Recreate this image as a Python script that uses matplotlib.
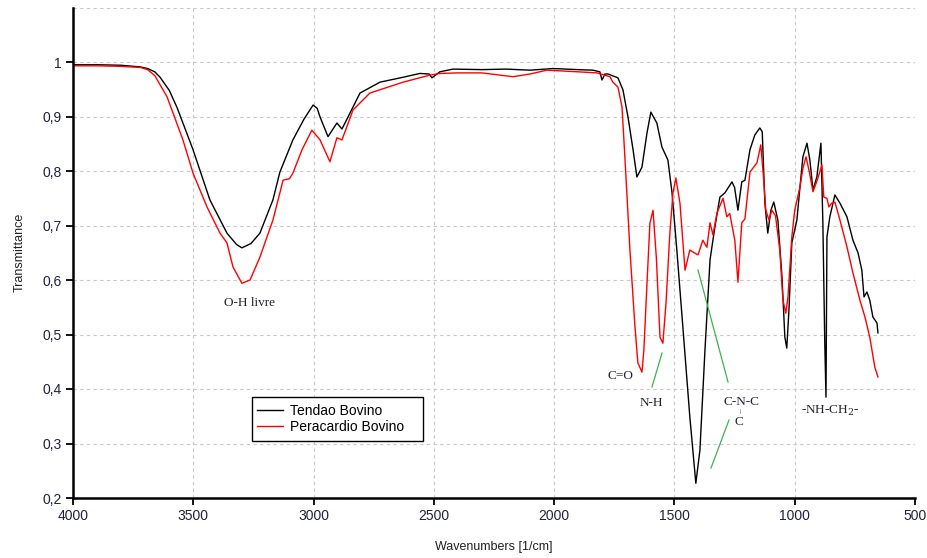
import matplotlib
matplotlib.use("Agg")
import matplotlib.pyplot as plt
from matplotlib.ticker import FuncFormatter
from matplotlib.patches import Rectangle

# ---- data ----
tendao_wn = [4000, 3900, 3800, 3720, 3690, 3660, 3638, 3600, 3568, 3501, 3431, 3360, 3320, 3298,
             3260, 3223, 3169, 3140, 3086, 3040, 3002, 2985, 2973, 2940, 2903, 2882, 2849, 2807,
             2724, 2628, 2558, 2520, 2508, 2475, 2420, 2300, 2200, 2100, 2005, 1900, 1839, 1810,
             1801, 1789, 1776, 1735, 1714, 1693, 1672, 1656, 1635, 1614, 1598, 1573, 1552, 1527,
             1510, 1490, 1465, 1436, 1411, 1394, 1373, 1352, 1332, 1311, 1290, 1261, 1250, 1236,
             1220, 1207, 1186, 1166, 1145, 1135, 1124, 1112, 1099, 1087, 1070, 1053, 1041, 1033,
             1024, 1012, 1000, 991, 978, 966, 949, 937, 924, 908, 891, 883, 875, 870, 866, 854,
             833, 812, 783, 758, 737, 721, 712, 700, 688, 675, 658, 654]
tendao_t = [0.995, 0.995, 0.994, 0.991, 0.988, 0.982, 0.972, 0.948, 0.917, 0.839, 0.747, 0.686,
            0.665, 0.659, 0.667, 0.686, 0.747, 0.798, 0.857, 0.895, 0.921, 0.915, 0.899, 0.863,
            0.888, 0.877, 0.906, 0.943, 0.963, 0.972, 0.979, 0.978, 0.971, 0.982, 0.987, 0.986,
            0.987, 0.985, 0.988, 0.986, 0.985, 0.982, 0.967, 0.978, 0.978, 0.971, 0.949, 0.899,
            0.839, 0.789, 0.807, 0.870, 0.908, 0.888, 0.844, 0.820, 0.760, 0.655, 0.514, 0.349,
            0.227, 0.288, 0.472, 0.637, 0.697, 0.752, 0.760, 0.780, 0.770, 0.728, 0.780, 0.783,
            0.839, 0.866, 0.879, 0.872, 0.741, 0.686, 0.728, 0.743, 0.710, 0.606, 0.495, 0.475,
            0.545, 0.668, 0.692, 0.710, 0.771, 0.826, 0.851, 0.820, 0.765, 0.789, 0.851, 0.705,
            0.484, 0.385, 0.679, 0.716, 0.756, 0.741, 0.716, 0.673, 0.650, 0.618, 0.569, 0.578,
            0.563, 0.532, 0.521, 0.503]

peric_wn = [4000, 3900, 3800, 3720, 3690, 3660, 3609, 3543, 3501, 3443, 3389, 3360, 3335, 3298,
            3264, 3223, 3169, 3140, 3127, 3100, 3086, 3048, 3007, 2973, 2932, 2903, 2882, 2836,
            2766, 2628, 2516, 2475, 2400, 2300, 2171, 2100, 2030, 1900, 1822, 1768, 1756, 1735,
            1718, 1706, 1685, 1664, 1652, 1635, 1627, 1614, 1602, 1589, 1575, 1560, 1548, 1535,
            1519, 1506, 1494, 1477, 1456, 1436, 1418, 1402, 1382, 1365, 1352, 1340, 1323, 1298,
            1282, 1270, 1249, 1236, 1220, 1207, 1186, 1157, 1141, 1130, 1120, 1107, 1095, 1080,
            1062, 1049, 1037, 1028, 1012, 1000, 978, 966, 953, 940, 924, 905, 887, 879, 866, 858,
            846, 833, 812, 783, 758, 729, 708, 688, 667, 654]
peric_t = [0.993, 0.993, 0.992, 0.990, 0.986, 0.975, 0.936, 0.857, 0.796, 0.734, 0.686, 0.668,
           0.624, 0.594, 0.600, 0.642, 0.710, 0.760, 0.783, 0.786, 0.796, 0.839, 0.875, 0.857,
           0.817, 0.861, 0.857, 0.912, 0.943, 0.963, 0.976, 0.979, 0.980, 0.980, 0.973, 0.978,
           0.985, 0.982, 0.980, 0.973, 0.963, 0.954, 0.918, 0.826, 0.655, 0.514, 0.448, 0.431,
           0.472, 0.594, 0.704, 0.728, 0.640, 0.495, 0.484, 0.558, 0.686, 0.760, 0.787, 0.741,
           0.618, 0.655, 0.650, 0.646, 0.673, 0.660, 0.705, 0.683, 0.723, 0.750, 0.716, 0.722,
           0.673, 0.596, 0.705, 0.712, 0.798, 0.815, 0.848, 0.790, 0.728, 0.710, 0.728, 0.718,
           0.655, 0.563, 0.539, 0.569, 0.679, 0.728, 0.771, 0.805, 0.826, 0.800, 0.762, 0.785,
           0.811, 0.752, 0.750, 0.734, 0.741, 0.743, 0.710, 0.661, 0.613, 0.563, 0.532, 0.495,
           0.440, 0.422]

x_ticks = [4000, 3500, 3000, 2500, 2000, 1500, 1000, 500]
y_ticks = [0.2, 0.3, 0.4, 0.5, 0.6, 0.7, 0.8, 0.9, 1.0]

fig = plt.figure(figsize=(9.28, 5.58), dpi=100)
ax = fig.add_axes([73/928, 1-498/558, 842/928, 490.5/558])

ax.plot(tendao_wn, tendao_t, color="black", lw=1.0, label="Tendao Bovino")
ax.plot(peric_wn, peric_t, color="red", lw=1.0, label="Peracardio Bovino")

ax.set_xlim(4000, 500)
ax.set_ylim(0.2, 1.1)
ax.set_xticks(x_ticks)
ax.set_yticks(y_ticks)
tick_color = "#202040"
ax.xaxis.set_major_formatter(FuncFormatter(lambda v, p: f"{int(v)}"))
ax.yaxis.set_major_formatter(FuncFormatter(lambda v, p: ("1" if abs(v-1) < 1e-9 else f"{v:.1f}".replace(".", ","))))
for lab in ax.get_xticklabels() + ax.get_yticklabels():
    lab.set_color(tick_color)
    lab.set_fontfamily("Liberation Sans")
    lab.set_fontsize(10)

ax.grid(True, color="#c8c8c8", linestyle=(0, (3, 3)), lw=0.8)
ax.axhline(1.1, color="#c8c8c8", linestyle=(0, (3, 3)), lw=0.8)
for s in ["top", "right"]:
    ax.spines[s].set_visible(False)
for s in ["left", "bottom"]:
    ax.spines[s].set_linewidth(1.8)
ax.tick_params(direction="out", length=5, width=1.3, pad=3)

ax.set_xlabel("Wavenumbers [1/cm]", fontsize=9, family="Liberation Sans", color="#202020", labelpad=13)
ax.set_ylabel("Transmittance", fontsize=9, family="Liberation Sans", color="#202020", labelpad=12)

def px(xp, yp):
    return fig.transFigure.inverted().transform(
        fig.dpi_scale_trans.transform((xp/100, (558-yp)/100)))

# legend frame drawn separately to match the wide box of the reference
p0 = px(252, 441); p1 = px(423, 397)
ax.add_patch(Rectangle(p0, p1[0]-p0[0], p1[1]-p0[1], transform=fig.transFigure,
                       facecolor="white", edgecolor="black", lw=1.0, zorder=5, clip_on=False))
leg = ax.legend(loc="upper left", bbox_to_anchor=px(257, 404), bbox_transform=fig.transFigure,
                frameon=False, prop={"family": "Liberation Sans", "size": 10}, handlelength=1.9,
                borderpad=0, labelspacing=0.12, handletextpad=0.5, borderaxespad=0)
leg.set_zorder(6)

serif = dict(family="Liberation Serif", fontsize=9.5, color="#222233", ha="center", va="center",
             transform=fig.transFigure)
fig.text(*px(249, 303), "O-H livre", **serif)
fig.text(*px(620, 376), "C=O", **serif)
fig.text(*px(651, 403), "N-H", **serif)
fig.text(*px(741, 402), "C-N-C", **serif)
fig.text(*px(740, 412), "|", family="Liberation Serif", fontsize=5, color="#222233",
         ha="center", va="center", transform=fig.transFigure)
fig.text(*px(739, 422), "C", **serif)
fig.text(*px(830, 411), "-NH-CH$_2$-", family="Liberation Serif", fontsize=9.5, color="#222233",
         ha="center", va="center", transform=fig.transFigure, math_fontfamily="dejavuserif")

green = "#3cb44b"
for (x0, y0, x1, y1) in [(662, 353, 652, 387), (698, 270, 728, 382), (729, 420, 711, 468)]:
    a = px(x0, y0); b = px(x1, y1)
    fig.add_artist(plt.Line2D([a[0], b[0]], [a[1], b[1]], color=green, lw=0.9,
                              transform=fig.transFigure))

fig.savefig("out.png", dpi=100)
